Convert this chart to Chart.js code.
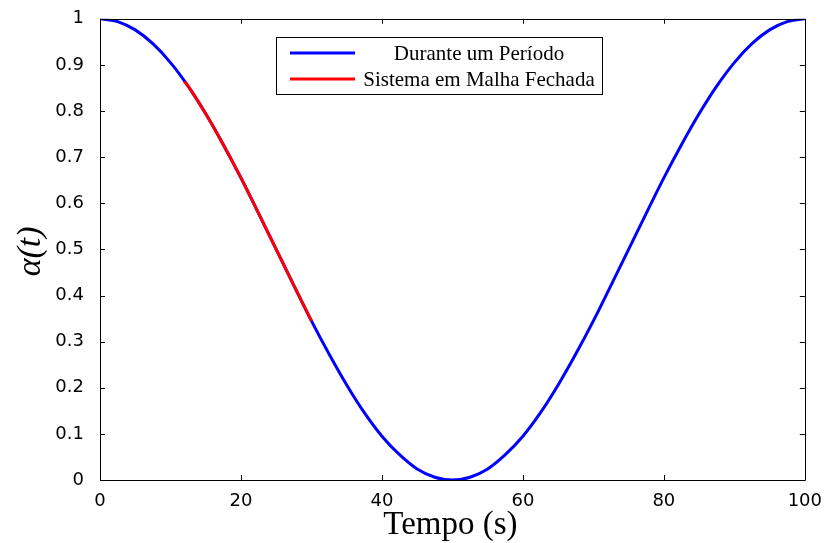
<!DOCTYPE html>
<html>
<head>
<meta charset="utf-8">
<script src="https://cdn.jsdelivr.net/npm/chart.js@4/dist/chart.umd.min.js"></script>
<style>
  html, body { margin: 0; padding: 0; background: #fff; }
  #wrap { width: 825px; height: 543px; }
</style>
</head>
<body>
<div id="wrap"><canvas id="chart" width="825" height="543"></canvas></div>
<script>
// values
const periodT = [0, 2.5, 5, 7.5, 10, 12.5, 15, 17.5, 20, 22.5, 25, 27.5, 30, 32.5, 35, 37.5, 40, 42.5, 45, 47.5, 50,
                 52.5, 55, 57.5, 60, 62.5, 65, 67.5, 70, 72.5, 75, 77.5, 80, 82.5, 85, 87.5, 90, 92.5, 95, 97.5, 100];
const periodAlpha = [1, 0.994, 0.976, 0.946, 0.905, 0.854, 0.794, 0.727, 0.655, 0.578, 0.5,
                     0.422, 0.345, 0.273, 0.206, 0.146, 0.095, 0.055, 0.024, 0.006, 0,
                     0.006, 0.024, 0.055, 0.095, 0.146, 0.206, 0.273, 0.345, 0.422, 0.5,
                     0.578, 0.655, 0.727, 0.794, 0.854, 0.905, 0.946, 0.976, 0.994, 1];
const closedT = [12, 12.5, 15, 17.5, 20, 22.5, 25, 27.5, 30];
const closedAlpha = [0.864, 0.854, 0.794, 0.727, 0.655, 0.578, 0.5, 0.422, 0.345];
const xTicks = [0, 20, 40, 60, 80, 100];
const yTicks = [0, 0.1, 0.2, 0.3, 0.4, 0.5, 0.6, 0.7, 0.8, 0.9, 1];
const seriesLabels = ["Durante um Período", "Sistema em Malha Fechada"];
const xTitle = "Tempo (s)";
const yTitle = "α(t)";

const toPoints = (xs, ys) => xs.map((x, i) => ({ x: x, y: ys[i] }));

// box, inward ticks, axis titles and legend
const framePlugin = {
    id: "frame",
    afterDraw(chart) {
        const { ctx, chartArea: a, scales } = chart;
        const tl = 5;
        ctx.save();
        ctx.strokeStyle = "#000";
        ctx.lineWidth = 1;
        ctx.beginPath();
        ctx.rect(Math.round(a.left) + 0.5, Math.round(a.top) + 0.5,
                 Math.round(a.right - a.left), Math.round(a.bottom - a.top));
        xTicks.forEach((v) => {
            const px = Math.round(scales.x.getPixelForValue(v)) + 0.5;
            ctx.moveTo(px, a.bottom); ctx.lineTo(px, a.bottom - tl);
            ctx.moveTo(px, a.top); ctx.lineTo(px, a.top + tl);
        });
        yTicks.forEach((v) => {
            const py = Math.round(scales.y.getPixelForValue(v)) + 0.5;
            ctx.moveTo(a.left, py); ctx.lineTo(a.left + tl, py);
            ctx.moveTo(a.right, py); ctx.lineTo(a.right - tl, py);
        });
        ctx.stroke();

        ctx.fillStyle = "#000";
        ctx.font = "33px 'Liberation Serif'";
        ctx.textAlign = "center";
        ctx.textBaseline = "alphabetic";
        ctx.fillText(xTitle, (a.left + a.right) / 2 - 2, 534);

        ctx.save();
        ctx.translate(40, (a.top + a.bottom) / 2 + 2);
        ctx.rotate(-Math.PI / 2);
        ctx.font = "italic 34px 'Liberation Serif'";
        ctx.fillText(yTitle, 0, 0);
        ctx.restore();

        // legend
        const lx = 276.5, ly = 37.5, lw = 326, lh = 57;
        ctx.fillStyle = "#fff";
        ctx.fillRect(lx, ly, lw, lh);
        ctx.strokeStyle = "#000";
        ctx.strokeRect(lx, ly, lw, lh);
        const rows = [53, 79];
        ctx.font = "21px 'Liberation Serif'";
        ctx.textBaseline = "middle";
        chart.data.datasets.forEach((ds, i) => {
            const y = rows[i];
            ctx.strokeStyle = ds.borderColor;
            ctx.lineWidth = 3;
            ctx.beginPath();
            ctx.moveTo(290, y);
            ctx.lineTo(355, y);
            ctx.stroke();
            ctx.fillStyle = "#000";
            ctx.fillText(ds.label, 479, y + 1);
        });
        ctx.restore();
    },
};

new Chart(document.getElementById("chart"), {
    type: "line",
    data: {
        datasets: [
            {
                label: seriesLabels[0],
                data: toPoints(periodT, periodAlpha),
                borderColor: "#0000ff",
                borderWidth: 3,
                pointRadius: 0,
                cubicInterpolationMode: "monotone",
                order: 1,
            },
            {
                label: seriesLabels[1],
                data: toPoints(closedT, closedAlpha),
                borderColor: "#ff0000",
                borderWidth: 3,
                pointRadius: 0,
                cubicInterpolationMode: "monotone",
                order: 0,
            },
        ],
    },
    options: {
        responsive: false,
        animation: false,
        events: [],
        layout: { padding: { top: 18, right: 17, left: 0, bottom: 0 } },
        plugins: {
            legend: { display: false },
            tooltip: { enabled: false },
        },
        scales: {
            x: {
                type: "linear",
                min: 0,
                max: 100,
                grid: { display: false },
                border: { display: false },
                afterBuildTicks: (s) => { s.ticks = xTicks.map((v) => ({ value: v })); },
                afterFit: (s) => { s.height = 63; },
                ticks: {
                    color: "#000",
                    padding: 3,
                    maxRotation: 0,
                    font: { family: "'DejaVu Sans'", size: 18 },
                },
            },
            y: {
                type: "linear",
                min: 0,
                max: 1,
                grid: { display: false },
                border: { display: false },
                afterBuildTicks: (s) => { s.ticks = yTicks.map((v) => ({ value: v })); },
                afterFit: (s) => { s.width = 100; },
                ticks: {
                    color: "#000",
                    padding: 8,
                    font: { family: "'DejaVu Sans'", size: 18 },
                    callback: (v) => String(v),
                },
            },
        },
    },
    plugins: [framePlugin],
});
</script>
</body>
</html>
